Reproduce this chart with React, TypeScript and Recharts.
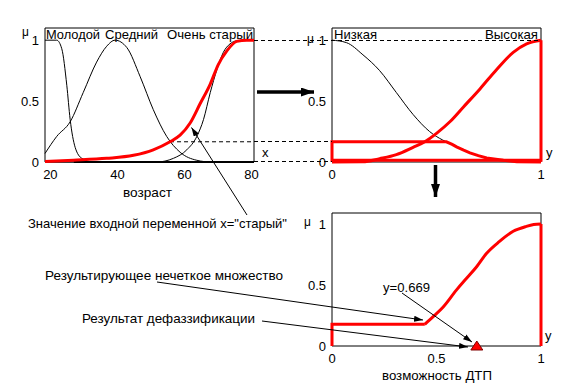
import React from 'react';
import {
  LineChart,
  ComposedChart,
  Line,
  Scatter,
  XAxis,
  YAxis,
  ReferenceLine,
  ReferenceArea
} from 'recharts';

// input variable "возраст" (age)
const ageTicks = [20, 40, 60, 80];
const muTicks = [0, 0.5, 1];
const young = [
  { x: 18.4, y: 1 }, { x: 21.9, y: 1 }, { x: 23.4, y: 0.93 }, { x: 24.9, y: 0.63 },
  { x: 25.9, y: 0.35 }, { x: 27.4, y: 0.12 }, { x: 29.4, y: 0.03 }, { x: 32.8, y: 0 },
  { x: 80.75, y: 0 }
];
const middle = [
  { x: 18.4, y: 0.07 }, { x: 21.9, y: 0.21 }, { x: 25.9, y: 0.33 }, { x: 29.8, y: 0.57 },
  { x: 33.8, y: 0.82 }, { x: 36.8, y: 0.95 }, { x: 39.3, y: 1 }, { x: 42.8, y: 0.94 },
  { x: 46.8, y: 0.7 }, { x: 50.7, y: 0.43 }, { x: 54.7, y: 0.21 }, { x: 58.7, y: 0.08 },
  { x: 63.7, y: 0.014 }, { x: 68, y: 0 }, { x: 80.75, y: 0 }
];
const veryOld = [
  { x: 18.4, y: 0 }, { x: 51.7, y: 0 }, { x: 56.7, y: 0.03 }, { x: 60.7, y: 0.1 },
  { x: 63.7, y: 0.21 }, { x: 65.7, y: 0.35 }, { x: 67.7, y: 0.57 }, { x: 69.7, y: 0.76 },
  { x: 71.6, y: 0.9 }, { x: 73.6, y: 0.97 }, { x: 75.6, y: 0.995 }, { x: 78.6, y: 1 },
  { x: 80.75, y: 1 }
];
const old = [
  { x: 18.4, y: 0.005 }, { x: 26.9, y: 0.015 }, { x: 36.8, y: 0.03 }, { x: 44.8, y: 0.055 },
  { x: 50.7, y: 0.1 }, { x: 55.7, y: 0.166 }, { x: 58.7, y: 0.22 }, { x: 61.7, y: 0.32 },
  { x: 64.7, y: 0.48 }, { x: 67.7, y: 0.64 }, { x: 70.1, y: 0.8 }, { x: 72.6, y: 0.91 },
  { x: 75.6, y: 0.99 }, { x: 78.6, y: 1 }, { x: 80.75, y: 1 }
];
const firing = 0.166;
const firingAge = 55.7;

// output variable "возможность ДТП"
const lowTicks = [0, 1];
const outTicks = [0, 0.5, 1];
const low = [
  { x: 0, y: 1 }, { x: 0.069, y: 0.98 }, { x: 0.148, y: 0.88 }, { x: 0.228, y: 0.75 },
  { x: 0.308, y: 0.57 }, { x: 0.388, y: 0.39 }, { x: 0.467, y: 0.25 }, { x: 0.53, y: 0.18 },
  { x: 0.547, y: 0.166 }
];
const lowCut = [
  { x: 0, y: 0 }, { x: 0, y: 0.166 }, { x: 0.547, y: 0.166 }, { x: 0.575, y: 0.145 },
  { x: 0.596, y: 0.124 }, { x: 0.63, y: 0.097 }, { x: 0.66, y: 0.075 }, { x: 0.7, y: 0.052 },
  { x: 0.74, y: 0.033 }, { x: 0.82, y: 0.014 }, { x: 0.884, y: 0.003 }, { x: 1, y: 0 }
];
const high = [
  { x: 0, y: 0 }, { x: 0.147, y: 0.002 }, { x: 0.228, y: 0.027 }, { x: 0.308, y: 0.06 },
  { x: 0.388, y: 0.12 }, { x: 0.444, y: 0.166 }, { x: 0.5, y: 0.235 }, { x: 0.564, y: 0.33 },
  { x: 0.628, y: 0.45 }, { x: 0.708, y: 0.6 }, { x: 0.788, y: 0.76 }, { x: 0.867, y: 0.9 },
  { x: 0.931, y: 0.97 }, { x: 1, y: 1 }
];
const highFrame = [{ x: 0, y: 0.015 }, { x: 1, y: 0.015 }, { x: 1, y: 1 }];

// aggregated output set and its crisp value
const resultLeft = [{ x: 0, y: 0 }, { x: 0, y: 0.178 }, { x: 0.444, y: 0.178 }];
const resultCurve = [
  { x: 0.444, y: 0.178 }, { x: 0.484, y: 0.24 }, { x: 0.532, y: 0.32 }, { x: 0.596, y: 0.46 },
  { x: 0.644, y: 0.555 }, { x: 0.692, y: 0.65 }, { x: 0.74, y: 0.76 }, { x: 0.8, y: 0.855 },
  { x: 0.867, y: 0.94 }, { x: 0.93, y: 0.98 }, { x: 0.965, y: 0.995 }, { x: 1, y: 1 }
];
const resultRight = [{ x: 1, y: 1 }, { x: 1, y: 0 }];
const defuzz = 0.669;
const crisp = [{ x: defuzz, y: 0 }];

const font = '"Liberation Sans", Arial, sans-serif';
const tickStyle = { fontSize: 13, fill: '#000', fontFamily: font };
const RED = '#ff0000';

const Triangle = (p: any) => {
  const cx = p.cx + 5;
  const cy = p.cy;
  return <path d={`M${cx - 6},${cy + 4} L${cx},${cy - 5} L${cx + 6},${cy + 4} Z`} fill={RED} stroke="#800000" />;
};

function T({ x, y, w, children, size = 13 }: any) {
  return (
    <text x={x} y={y} textLength={w} lengthAdjust="spacingAndGlyphs" fontSize={size} fontFamily={font} fill="#000">
      {children}
    </text>
  );
}

export default function App() {
  return (
    <div style={{ position: 'absolute', left: 0, top: 0, width: 565, height: 391, background: '#fff' }}>
      {/* input: age */}
      <div style={{ position: 'absolute', left: 0, top: 0 }}>
        <LineChart width={300} height={200} margin={{ top: 28, right: 46, bottom: 8, left: 15 }}>
          <XAxis dataKey="x" type="number" domain={[18.4, 80.75]} ticks={ageTicks} interval={0}
            height={30} tickLine={false} axisLine={false} tick={tickStyle} tickSize={6} tickMargin={2} />
          <YAxis type="number" domain={[0, 1.1]} ticks={muTicks} interval={0}
            width={30} tickLine={false} axisLine={false} tick={tickStyle} tickSize={4} tickMargin={2} />
          <ReferenceArea x1={18.4} x2={80.75} y1={0} y2={1.1} fill="none" stroke="#000" />
          <ReferenceLine segment={[{ x: firingAge, y: firing }, { x: 80.75, y: firing }]} stroke="#000" strokeDasharray="4 3" />
          <ReferenceLine segment={[{ x: 27, y: 0 }, { x: 80.75, y: 0 }]} stroke="#000" strokeWidth={2} />
          <Line data={young} dataKey="y" type="monotone" stroke="#000" strokeWidth={1} dot={false} activeDot={false} isAnimationActive={false} />
          <Line data={middle} dataKey="y" type="monotone" stroke="#000" strokeWidth={1} dot={false} activeDot={false} isAnimationActive={false} />
          <Line data={veryOld} dataKey="y" type="monotone" stroke="#000" strokeWidth={1} dot={false} activeDot={false} isAnimationActive={false} />
          <Line data={old} dataKey="y" type="monotone" stroke={RED} strokeWidth={3} dot={false} activeDot={false} isAnimationActive={false} />
        </LineChart>
      </div>

      {/* output sets */}
      <div style={{ position: 'absolute', left: 290, top: 0 }}>
        <LineChart width={275} height={200} margin={{ top: 28, right: 24, bottom: 8, left: 12 }}>
          <XAxis dataKey="x" type="number" domain={[0, 1]} ticks={lowTicks} interval={0}
            height={30} tickLine={false} axisLine={false} tick={tickStyle} tickSize={6} tickMargin={2} />
          <YAxis type="number" domain={[0, 1.1]} ticks={muTicks} interval={0}
            width={30} tickLine={false} axisLine={false} tick={tickStyle} tickSize={4} tickMargin={2} />
          <ReferenceArea x1={0} x2={1} y1={0} y2={1.1} fill="none" stroke="#000" />
          <Line data={low} dataKey="y" type="monotone" stroke="#000" strokeWidth={1} dot={false} activeDot={false} isAnimationActive={false} />
          <Line data={highFrame} dataKey="y" type="linear" stroke={RED} strokeWidth={3} dot={false} activeDot={false} isAnimationActive={false} />
          <Line data={lowCut} dataKey="y" type="linear" stroke={RED} strokeWidth={3} dot={false} activeDot={false} isAnimationActive={false} />
          <Line data={high} dataKey="y" type="monotone" stroke={RED} strokeWidth={3} dot={false} activeDot={false} isAnimationActive={false} />
        </LineChart>
      </div>

      {/* aggregated result */}
      <div style={{ position: 'absolute', left: 290, top: 190 }}>
        <ComposedChart width={275} height={200} margin={{ top: 23, right: 24, bottom: 14, left: 12 }}>
          <XAxis dataKey="x" type="number" domain={[0, 1]} ticks={outTicks} interval={0}
            height={30} tickLine={false} axisLine={false} tick={tickStyle} tickSize={6} tickMargin={2} />
          <YAxis type="number" domain={[0, 1.09]} ticks={muTicks} interval={0}
            width={30} tickLine={false} axisLine={false} tick={tickStyle} tickSize={4} tickMargin={2} />
          <ReferenceArea x1={0} x2={1} y1={0} y2={1.09} fill="none" stroke="#000" />
          <Line data={resultLeft} dataKey="y" type="linear" stroke={RED} strokeWidth={3} dot={false} activeDot={false} isAnimationActive={false} />
          <Line data={resultCurve} dataKey="y" type="monotone" stroke={RED} strokeWidth={3} dot={false} activeDot={false} isAnimationActive={false} />
          <Line data={resultRight} dataKey="y" type="linear" stroke={RED} strokeWidth={3} dot={false} activeDot={false} isAnimationActive={false} />
          <Scatter data={crisp} dataKey="y" shape={Triangle} isAnimationActive={false} />
        </ComposedChart>
      </div>

      {/* annotations */}
      <svg width={565} height={391} style={{ position: 'absolute', left: 0, top: 0, pointerEvents: 'none' }}>
        <defs>
          <marker id="ah" markerUnits="userSpaceOnUse" markerWidth={9} markerHeight={6} refX={9} refY={3} orient="auto">
            <path d="M0,0 L9,3 L0,6 Z" fill="#000" />
          </marker>
          <marker id="big" markerUnits="userSpaceOnUse" markerWidth={13} markerHeight={9} refX={13} refY={4.5} orient="auto">
            <path d="M0,0 L13,4.5 L0,9 Z" fill="#000" />
          </marker>
        </defs>

        <g stroke="#000" strokeDasharray="4 3" strokeWidth={1}>
          <line x1={254} y1={40.5} x2={541} y2={40.5} />
          <line x1={254} y1={141.5} x2={332} y2={141.5} />
          <line x1={254} y1={161.5} x2={332} y2={161.5} />
        </g>

        <line x1={257} y1={92} x2={314} y2={92} stroke="#000" strokeWidth={3.5} markerEnd="url(#big)" />
        <line x1={435.5} y1={165} x2={435.5} y2={197} stroke="#000" strokeWidth={3.5} markerEnd="url(#big)" />

        <g stroke="#000" strokeWidth={1}>
          <line x1={247} y1={215} x2={191.5} y2={127.5} markerEnd="url(#ah)" />
          <line x1={157} y1={282} x2={423} y2={320} markerEnd="url(#ah)" />
          <line x1={262} y1={321} x2={468} y2={347} markerEnd="url(#ah)" />
          <line x1={402} y1={293} x2={472} y2={342} markerEnd="url(#ah)" />
        </g>

        <T x={46} y={39} w={54}>Молодой</T>
        <T x={105} y={39} w={53}>Средний</T>
        <T x={167} y={39} w={86}>Очень старый</T>
        <T x={334} y={39} w={43}>Низкая</T>
        <T x={485} y={39} w={53}>Высокая</T>

        <T x={22} y={36} size={12}>μ</T>
        <T x={307} y={43} size={12}>μ</T>
        <T x={304} y={226} size={12}>μ</T>
        <T x={262} y={157}>x</T>
        <T x={546} y={157}>y</T>
        <T x={545} y={340}>y</T>

        <T x={123} y={197} w={49}>возраст</T>
        <T x={28} y={228} w={259}>Значение входной переменной x="старый"</T>
        <T x={45} y={280} w={238}>Результирующее нечеткое множество</T>
        <T x={82} y={323} w={173}>Результат дефаззификации</T>
        <T x={383} y={292} w={47}>{`y=${defuzz}`}</T>
        <T x={382} y={380} w={110}>возможность ДТП</T>
      </svg>
    </div>
  );
}
